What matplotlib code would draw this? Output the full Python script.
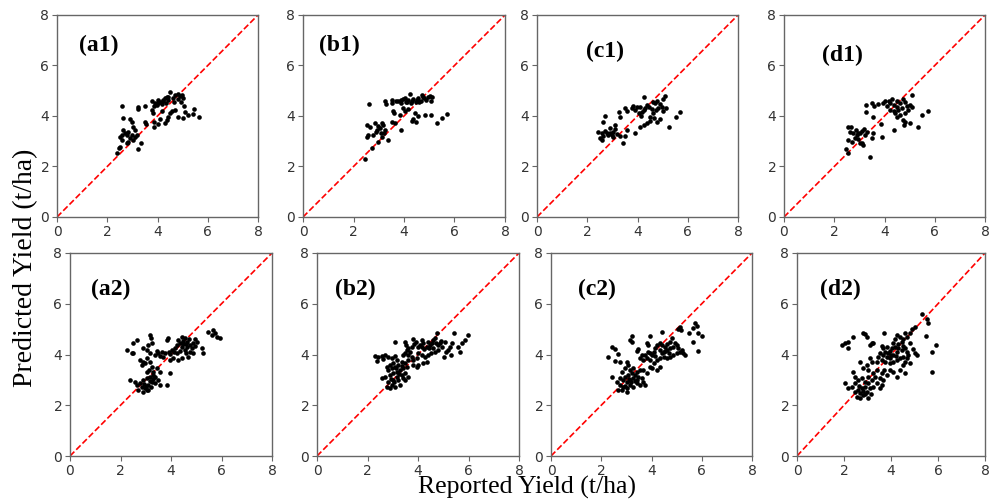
import matplotlib
matplotlib.use("Agg")
import matplotlib.pyplot as plt

# ---------------- data (reported, predicted) ----------------
a1_pts = [(2.57,4.40),(3.24,4.35),(3.21,4.27),(3.50,4.40),(3.79,4.61),(3.90,4.53),(4.01,4.51),(4.10,4.57),
          (4.17,4.48),(4.23,4.64),(4.30,4.70),(4.37,4.77),(4.43,4.74),(4.33,4.53),(3.97,4.44),(3.87,4.40),
          (4.50,4.97),(4.70,4.84),(4.80,4.88),(4.90,4.80),(4.99,4.84),(5.03,4.70),(4.94,4.57),(4.83,4.66),
          (5.07,4.40),(3.77,4.22),(3.83,4.11),(4.17,4.18),(4.50,4.11),(4.59,4.18),(4.70,4.22),(4.43,3.98),
          (4.37,3.85),(4.30,3.71),(4.83,3.95),(5.03,3.91),(5.10,4.14),(5.23,4.04),(5.47,4.28),(5.43,4.07),
          (5.65,3.95),(3.87,3.78),(4.03,3.69),(4.10,3.87),(2.64,3.91),(2.90,3.87),(2.97,3.78),(3.04,3.58),
          (3.10,3.45),(3.50,3.78),(3.53,3.69),(3.87,3.58),(2.64,3.45),(2.71,3.32),(2.77,3.25),(2.57,3.25),
          (2.51,3.16),(2.60,3.05),(2.84,3.38),(2.97,3.25),(2.90,3.12),(3.04,3.05),(3.10,3.16),(3.17,3.25),
          (2.84,2.99),(2.77,2.95),(3.34,2.95),(3.24,2.68),(2.51,2.79),(2.47,2.72),(2.37,2.53),
          (4.00,4.62),(4.20,4.58),(4.40,4.62),(4.60,4.72),(4.65,4.55)]

b1_pts = [(2.61,4.48),(3.25,4.61),(3.27,4.48),(3.51,4.64),(3.54,4.53),(3.77,4.61),(3.88,4.53),(3.97,4.66),
          (4.07,4.57),(4.17,4.64),(4.28,4.53),(4.37,4.66),(4.46,4.57),(4.57,4.70),(4.67,4.61),(4.77,4.77),
          (4.86,4.64),(4.96,4.74),(5.07,4.61),(5.12,4.77),(4.04,4.70),(4.30,4.61),(4.50,4.64),(4.24,4.88),
          (4.70,4.84),(5.03,4.80),(3.58,4.18),(3.62,4.11),(3.84,4.04),(4.04,4.18),(4.17,4.27),(3.97,4.31),
          (4.44,4.11),(4.54,4.00),(4.37,3.87),(4.46,3.78),(4.30,3.82),(4.83,4.04),(5.07,4.04),(5.29,3.71),
          (5.49,3.91),(5.69,4.08),(2.52,3.65),(2.65,3.58),(2.85,3.71),(2.98,3.61),(3.05,3.52),(2.92,3.45),
          (3.12,3.74),(3.18,3.65),(3.25,3.45),(3.09,3.32),(2.59,3.25),(2.52,3.16),(2.79,3.25),(2.88,3.38),
          (3.12,3.16),(3.22,3.32),(2.98,2.99),(3.38,3.05),(3.88,3.45),(3.51,3.78),(3.64,3.71),(2.72,2.72),
          (2.45,2.29),(3.70,4.58),(3.90,4.64),(4.12,4.55),(4.60,4.56),(4.80,4.70)]

c1_pts = [(4.26,4.74),(5.10,4.80),(5.03,4.66),(4.61,4.57),(4.70,4.51),(4.79,4.61),(4.90,4.48),(4.97,4.37),
          (4.83,4.31),(4.74,4.22),(4.63,4.11),(4.57,4.27),(4.44,4.37),(4.37,4.44),(4.30,4.31),(4.24,4.22),
          (4.17,4.14),(4.08,4.37),(3.97,4.35),(3.90,4.24),(3.84,4.40),(3.77,4.31),(4.04,4.11),(4.13,4.00),
          (4.50,3.98),(4.66,3.91),(4.50,3.82),(4.37,3.71),(4.77,3.78),(4.90,3.87),(5.03,4.18),(5.14,4.31),
          (5.70,4.15),(5.54,3.95),(5.27,3.56),(2.71,4.00),(2.64,3.78),(3.28,4.14),(3.31,3.98),(3.51,4.31),
          (3.57,4.18),(2.44,3.38),(2.58,3.32),(2.71,3.42),(2.78,3.32),(2.91,3.34),(2.97,3.25),(3.04,3.38),
          (3.11,3.48),(2.84,3.25),(2.64,3.19),(3.04,3.16),(3.17,3.29),(3.31,3.21),(3.11,3.65),(2.91,3.52),
          (2.51,3.12),(2.58,3.05),(3.51,3.21),(3.41,2.92),(3.57,3.45),(3.90,3.32),(4.10,3.58),(4.24,3.65)]

d1_pts = [(5.11,4.84),(4.75,4.66),(4.82,4.57),(4.62,4.53),(4.49,4.61),(4.29,4.66),(4.16,4.61),(4.02,4.61),
          (3.96,4.53),(4.22,4.51),(4.36,4.44),(4.09,4.40),(4.49,4.37),(4.55,4.24),(4.69,4.31),(4.89,4.40),
          (5.02,4.44),(5.11,4.35),(4.93,4.22),(4.82,4.11),(4.62,4.04),(4.49,3.98),(4.36,4.18),(4.22,4.24),
          (4.42,4.11),(3.76,4.48),(3.52,4.51),(3.60,4.40),(3.25,4.44),(3.25,4.14),(3.56,3.98),(4.82,3.78),
          (4.79,3.65),(5.02,3.71),(4.75,3.85),(5.32,3.56),(5.51,4.04),(5.72,4.18),(4.36,3.45),(3.86,3.69),
          (2.56,3.58),(2.67,3.56),(2.63,3.38),(2.85,3.45),(2.96,3.34),(3.09,3.42),(3.20,3.48),(3.03,3.32),
          (2.89,3.25),(2.76,3.32),(3.29,3.38),(3.23,3.25),(3.56,3.32),(3.49,3.12),(3.89,3.15),(2.56,3.05),
          (2.70,2.99),(2.83,3.12),(2.96,3.08),(3.09,2.92),(3.16,2.86),(3.03,2.95),(2.46,2.68),(2.54,2.53),
          (3.43,2.39)]

a2_pts = [(5.48,4.90),(5.68,4.97),(5.74,4.83),(5.61,4.77),(5.83,4.70),(5.94,4.64),(5.21,4.24),(5.28,4.05),
          (4.95,4.60),(5.04,4.50),(4.88,4.44),(4.75,4.37),(4.82,4.24),(4.62,4.31),(4.55,4.18),(4.42,4.28),
          (4.36,4.44),(4.29,4.57),(4.42,4.70),(4.55,4.64),(4.65,4.50),(4.49,4.41),(4.22,4.37),(4.16,4.24),
          (4.03,4.18),(3.89,4.64),(3.83,4.57),(3.93,4.11),(3.76,4.05),(3.63,4.11),(3.50,4.05),(3.43,4.15),
          (3.37,3.98),(3.56,3.94),(3.70,3.91),(4.22,4.05),(4.29,3.78),(4.42,3.85),(3.96,3.78),(4.09,3.85),
          (4.75,4.11),(4.88,4.05),(4.69,3.91),(3.17,4.77),(3.19,4.64),(3.10,4.37),(3.23,4.44),(2.64,4.57),
          (2.51,4.44),(2.24,4.18),(2.44,4.07),(2.51,4.05),(2.90,4.24),(3.04,4.18),(3.17,4.05),(2.77,3.78),
          (2.90,3.72),(2.84,3.59),(3.04,3.85),(2.97,3.65),(3.17,3.72),(3.23,3.52),(3.14,3.39),(3.30,3.32),
          (3.43,3.45),(3.56,3.32),(3.37,3.13),(3.17,3.13),(3.04,3.06),(2.90,2.99),(2.77,2.89),(2.64,2.80),
          (2.84,2.73),(2.97,2.67),(3.10,2.80),(3.23,2.93),(3.37,2.86),(3.50,2.99),(3.56,2.80),(2.38,2.99),
          (2.57,2.93),(2.71,2.60),(2.90,2.53),(3.04,2.60),(3.96,3.26),(3.83,2.80),
          (4.48,4.52),(4.58,4.40),(4.70,4.60),(4.35,4.15),(4.12,4.10),(3.98,4.02),(4.60,4.05),(4.95,4.35),
          (3.00,2.75),(3.15,2.95),(3.28,3.05),(3.10,2.62),(3.22,2.70),(2.95,2.85),(3.30,3.20),(3.05,3.30)]

b2_pts = [(5.99,4.77),(5.86,4.57),(5.76,4.44),(5.60,4.31),(5.66,4.11),(5.44,4.86),(5.33,4.44),(5.27,4.31),
          (5.20,4.18),(5.31,3.98),(4.74,4.83),(4.67,4.64),(4.61,4.57),(4.54,4.44),(4.48,4.37),(4.38,4.50),
          (4.34,4.31),(4.21,4.44),(4.14,4.57),(4.08,4.37),(4.01,4.31),(3.91,4.50),(3.82,4.60),(3.85,4.41),
          (3.75,4.31),(3.62,4.24),(3.55,4.18),(3.49,4.50),(3.51,4.37),(3.09,4.50),(4.78,4.37),(4.87,4.44),
          (4.96,4.31),(4.81,4.18),(4.67,4.11),(4.61,4.24),(4.51,4.05),(4.41,3.98),(4.28,3.91),(4.14,3.98),
          (4.01,4.05),(3.95,3.85),(3.82,3.78),(3.75,3.91),(3.62,3.98),(3.49,4.05),(3.42,3.98),(5.07,4.50),
          (5.10,4.11),(5.04,3.91),(4.34,3.72),(4.21,3.65),(4.01,3.59),(2.30,3.94),(2.43,3.91),(2.56,3.94),
          (2.69,3.98),(2.82,3.91),(2.36,3.76),(2.63,3.81),(2.96,3.85),(3.09,3.94),(3.16,3.78),(3.02,3.65),
          (2.89,3.59),(2.76,3.52),(2.82,3.39),(2.96,3.45),(3.09,3.52),(3.22,3.59),(3.35,3.72),(3.49,3.65),
          (3.62,3.78),(3.55,3.52),(3.42,3.45),(3.29,3.39),(3.16,3.32),(3.02,3.26),(2.89,3.19),(3.16,3.13),
          (3.35,3.19),(3.49,3.26),(3.42,3.06),(3.22,2.99),(3.02,2.99),(2.56,3.06),(2.69,3.13),(2.82,2.93),
          (2.96,2.80),(3.09,2.73),(2.76,2.73),(2.89,2.67),(3.49,2.99),(3.62,3.13),(3.29,2.80),(3.95,3.52),
          (3.82,3.59),
          (4.45,4.25),(4.25,4.20),(4.70,4.45),(4.90,4.55),(4.15,4.30),(3.70,4.10),(3.12,3.45),(3.25,3.25),
          (2.95,3.05),(3.05,2.90),(3.35,3.55)]

c2_pts = [(5.14,5.10),(5.07,4.99),(5.17,4.97),(5.74,5.23),(5.80,5.12),(5.67,5.03),(5.51,4.86),(5.87,4.86),
          (6.00,4.73),(5.64,4.50),(5.87,4.14),(4.41,4.90),(3.94,4.73),(3.21,4.73),(3.15,4.57),(3.21,4.50),
          (4.81,4.64),(4.74,4.50),(4.61,4.41),(4.54,4.31),(4.41,4.37),(4.32,4.47),(4.21,4.37),(4.14,4.24),
          (4.08,4.11),(4.01,3.98),(3.94,4.05),(3.88,4.11),(3.81,4.44),(3.88,4.37),(3.75,3.98),(3.81,3.85),
          (3.68,3.78),(3.55,3.85),(3.61,3.98),(4.34,4.18),(4.48,4.11),(4.61,4.18),(4.74,4.24),(4.87,4.31),
          (4.94,4.44),(5.01,4.37),(5.07,4.24),(5.14,4.11),(5.21,4.18),(5.27,4.05),(5.34,3.98),(5.01,4.05),
          (4.87,3.98),(4.74,3.91),(4.61,3.85),(4.48,3.91),(4.34,3.85),(4.21,3.78),(4.08,3.65),(3.94,3.52),
          (4.01,3.45),(4.34,3.49),(4.21,3.39),(2.42,4.31),(2.55,4.20),(2.68,4.02),(2.28,3.89),(2.55,3.76),
          (2.75,3.72),(3.48,4.20),(3.41,4.15),(3.01,3.72),(3.08,3.59),(2.95,3.45),(3.15,3.39),(3.28,3.45),
          (3.41,3.32),(3.55,3.39),(3.35,3.19),(3.21,3.26),(3.08,3.19),(2.95,3.13),(2.82,3.32),(2.75,3.06),
          (2.88,2.99),(3.01,2.93),(3.15,2.99),(3.28,3.06),(3.41,2.99),(3.48,3.13),(3.61,3.06),(2.42,3.10),
          (2.62,2.93),(2.75,2.80),(2.88,2.73),(3.01,2.67),(3.15,2.80),(3.28,2.73),(3.41,2.86),(3.55,2.80),
          (3.68,2.93),(3.75,2.80),(3.01,2.53),(2.82,2.60),(2.68,2.60),(3.68,3.39),(3.81,3.26),
          (4.40,4.05),(4.55,4.15),(4.15,3.95),(4.68,4.05),(3.95,3.80),(2.95,2.75),(3.20,2.90),(3.35,2.95),
          (3.10,3.05)]

d2_pts = [(5.33,5.60),(5.52,5.39),(5.59,5.23),(5.48,4.73),(5.90,4.37),(5.76,4.11),(5.73,3.32),(5.02,5.10),
          (4.91,4.99),(4.81,4.83),(4.67,4.70),(4.60,4.86),(4.53,4.60),(4.45,4.50),(4.38,4.68),(4.24,4.77),
          (4.17,4.60),(4.10,4.44),(4.17,4.31),(4.03,4.24),(3.96,4.15),(3.89,4.05),(3.74,4.11),(3.67,4.24),
          (3.60,4.33),(3.53,4.05),(3.67,3.98),(3.82,3.91),(3.96,3.85),(4.10,3.98),(4.24,4.11),(4.31,4.24),
          (4.45,4.18),(4.60,4.24),(4.67,4.11),(4.74,3.98),(4.53,3.91),(4.38,3.85),(4.24,3.78),(4.10,3.72),
          (3.96,3.65),(3.74,3.72),(3.60,3.78),(3.46,3.91),(3.39,3.72),(5.02,4.05),(5.09,3.98),(4.95,4.20),
          (4.81,4.44),(4.67,3.85),(4.53,3.59),(4.38,3.39),(4.60,3.26),(4.24,3.13),(4.10,3.32),(3.96,3.39),
          (3.82,3.19),(3.72,3.39),(3.60,3.26),(3.67,2.99),(3.53,3.06),(4.60,3.72),(4.81,3.65),(3.72,4.86),
          (2.82,4.83),(2.96,4.70),(2.89,4.81),(3.11,4.37),(3.18,4.44),(3.25,4.47),(2.40,4.70),(1.90,4.37),
          (2.04,4.44),(2.18,4.50),(2.18,4.24),(2.68,3.72),(2.96,3.59),(2.82,3.45),(2.40,3.32),(2.47,3.13),
          (3.11,3.85),(3.18,3.72),(3.04,3.39),(3.25,3.26),(3.39,3.39),(3.32,3.13),(3.18,2.99),(3.04,2.86),
          (2.89,2.73),(2.75,2.67),(2.61,2.60),(2.47,2.53),(2.33,2.73),(2.04,2.86),(2.18,2.67),(2.68,2.47),
          (2.82,2.40),(2.54,2.34),(2.96,2.53),(3.11,2.67),(3.25,2.73),(3.39,2.86),(3.53,2.67),(3.60,2.80),
          (2.61,2.99),(2.75,3.06),(2.89,2.93),(3.04,3.13),(2.47,2.86),
          (4.30,4.40),(4.50,4.35),(4.00,4.00),(4.20,3.95),(3.85,4.30),(2.70,2.30),(2.90,2.45),(3.00,2.30),
          (2.80,2.55),(3.15,2.45),(2.65,2.75)]

panel_labels = ["(a1)", "(b1)", "(c1)", "(d1)", "(a2)", "(b2)", "(c2)", "(d2)"]
panel_data = [a1_pts, b1_pts, c1_pts, d1_pts, a2_pts, b2_pts, c2_pts, d2_pts]
ticks = [0, 2, 4, 6, 8]
x_label = "Reported Yield (t/ha)"
y_label = "Predicted Yield (t/ha)"

# ---------------- layout (pixel boxes: left, right, top, bottom) ----------------
W, H = 992, 500
boxes = [(57, 258, 15, 217), (303, 505, 15, 217), (537, 738, 15, 217), (784, 985, 15, 217),
         (70, 272, 253, 456), (317, 519, 253, 456), (551, 752, 253, 456), (797, 985, 253, 456)]
label_pos = [(0.21, 0.85), (0.18, 0.85), (0.34, 0.82), (0.29, 0.80),
             (0.20, 0.82), (0.19, 0.82), (0.23, 0.82), (0.23, 0.82)]

fig = plt.figure(figsize=(W / 100, H / 100), dpi=100)
spine_col = "#666666"
for pts, lab, (l, r, t, b), (lx, ly) in zip(panel_data, panel_labels, boxes, label_pos):
    ax = fig.add_axes([l / W, 1 - b / H, (r - l) / W, (b - t) / H])
    xs = [p[0] for p in pts]
    ys = [p[1] for p in pts]
    ax.scatter(xs, ys, s=11, c="black", linewidths=0, zorder=3)
    ax.plot([0, 8], [0, 8], color="red", linestyle="--", linewidth=1.2, zorder=2)
    ax.set_xlim(0, 8)
    ax.set_ylim(0, 8)
    ax.set_xticks(ticks)
    ax.set_yticks(ticks)
    ax.tick_params(labelsize=10, colors="#333333", length=3.5, width=0.8, pad=2)
    ax.tick_params(color=spine_col)
    for sp in ax.spines.values():
        sp.set_color(spine_col)
        sp.set_linewidth(1.0)
    ax.text(lx, ly, lab, transform=ax.transAxes, ha="center", va="center",
            fontsize=17, fontweight="bold", family="Liberation Serif")

fig.text(26 / W, 1 - 268 / H, y_label, rotation=90, ha="center", va="center",
         fontsize=20, family="Liberation Serif")
fig.text(527 / W, 1 - 494 / H, x_label, ha="center", va="baseline",
         fontsize=18.5, family="Liberation Serif")

fig.savefig("out.png", dpi=100)
